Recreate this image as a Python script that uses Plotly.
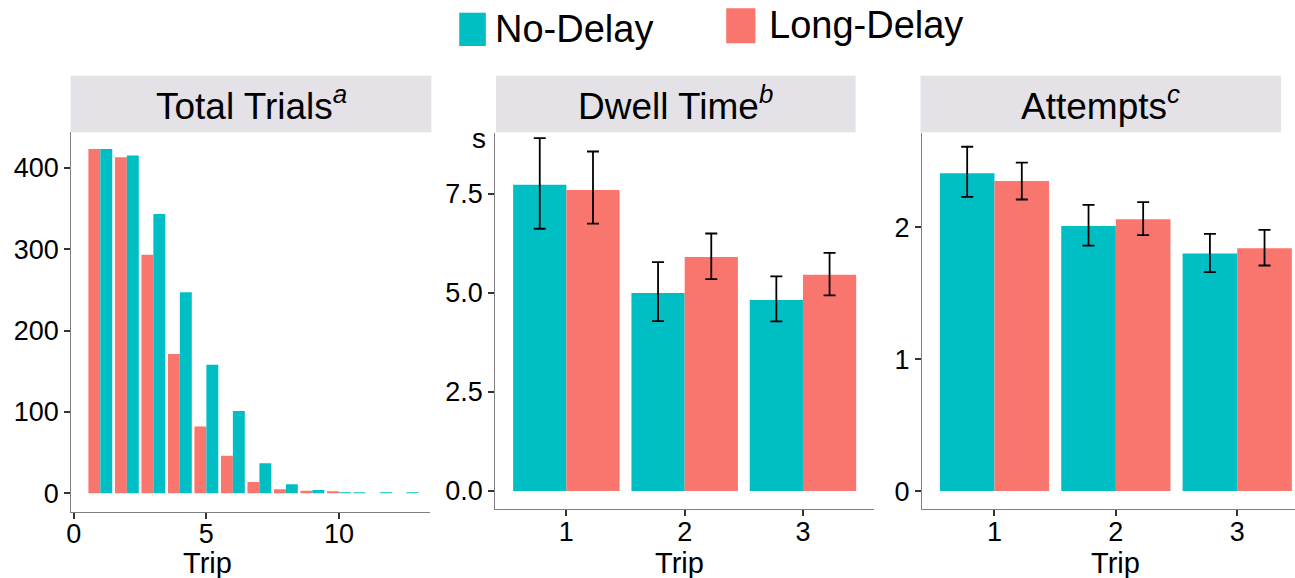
import plotly.graph_objects as go

W, H = 1295, 578
TEAL = "#00BFC4"
RED = "#F8766D"
FONT = "Liberation Sans, Arial, Helvetica, sans-serif"

# ---------------- data ----------------
trips_total_no = list(range(1, 14))
total_no_delay = [423, 415, 343, 247, 158, 101, 37, 11, 4, 1, 1, 1, 1]
trips_total_long = list(range(1, 11))
total_long_delay = [423, 413, 293, 171, 82, 46, 14, 5, 3, 2]

trips = [1, 2, 3]
dwell_no = [7.73, 5.00, 4.82]
dwell_no_hi = [8.91, 5.78, 5.42]
dwell_no_lo = [6.62, 4.29, 4.28]
dwell_long = [7.60, 5.91, 5.46]
dwell_long_hi = [8.57, 6.50, 6.01]
dwell_long_lo = [6.75, 5.35, 4.94]

att_no = [2.41, 2.01, 1.80]
att_no_hi = [2.61, 2.17, 1.95]
att_no_lo = [2.23, 1.86, 1.66]
att_long = [2.35, 2.06, 1.84]
att_long_hi = [2.49, 2.19, 1.98]
att_long_lo = [2.21, 1.94, 1.71]

panel_titles = ["Total Trials<sup><i>a</i></sup>",
                "Dwell Time<sup><i>b</i></sup>",
                "Attempts<sup><i>c</i></sup>"]
series_names = ["No-Delay", "Long-Delay"]


def px_x(p):
    return p / W


def px_y(p):
    return 1 - p / H


BW = 0.45


def err(vals, hi, lo):
    return dict(type="data", symmetric=False,
                array=[h - v for v, h in zip(vals, hi)],
                arrayminus=[v - l for v, l in zip(vals, lo)],
                color="black", thickness=1.8, width=6)


fig = go.Figure()

# Panel 1: Total trials (Long-Delay left, No-Delay right)
fig.add_trace(go.Bar(x=trips_total_long, y=total_long_delay, name=series_names[1],
                     marker=dict(color=RED, line=dict(width=0)),
                     width=BW, offset=-BW, xaxis="x", yaxis="y", showlegend=False))
teal_offsets = [0 if t in trips_total_long else -BW for t in trips_total_no]
fig.add_trace(go.Bar(x=trips_total_no, y=total_no_delay, name=series_names[0],
                     marker=dict(color=TEAL, line=dict(width=0)),
                     width=BW, offset=teal_offsets, xaxis="x", yaxis="y", showlegend=False))

# Panel 2: Dwell time
fig.add_trace(go.Bar(x=trips, y=dwell_no, name=series_names[0],
                     marker=dict(color=TEAL, line=dict(width=0)),
                     width=BW, offset=-BW, error_y=err(dwell_no, dwell_no_hi, dwell_no_lo),
                     xaxis="x2", yaxis="y2", showlegend=False))
fig.add_trace(go.Bar(x=trips, y=dwell_long, name=series_names[1],
                     marker=dict(color=RED, line=dict(width=0)),
                     width=BW, offset=0, error_y=err(dwell_long, dwell_long_hi, dwell_long_lo),
                     xaxis="x2", yaxis="y2", showlegend=False))

# Panel 3: Attempts
fig.add_trace(go.Bar(x=trips, y=att_no, name=series_names[0],
                     marker=dict(color=TEAL, line=dict(width=0)),
                     width=BW, offset=-BW, error_y=err(att_no, att_no_hi, att_no_lo),
                     xaxis="x3", yaxis="y3", showlegend=False))
fig.add_trace(go.Bar(x=trips, y=att_long, name=series_names[1],
                     marker=dict(color=RED, line=dict(width=0)),
                     width=BW, offset=0, error_y=err(att_long, att_long_hi, att_long_lo),
                     xaxis="x3", yaxis="y3", showlegend=False))

axis_common = dict(showline=True, linecolor="#808080", linewidth=1.3,
                   ticks="outside", ticklen=6, tickwidth=1.5, tickcolor="#333333",
                   showgrid=False, zeroline=False,
                   tickfont=dict(family=FONT, size=27, color="black"))
xaxis_extra = dict(ticklabelstandoff=-8)

fig.update_layout(
    width=W, height=H,
    margin=dict(l=0, r=0, t=0, b=0),
    paper_bgcolor="white", plot_bgcolor="white",
    barmode="overlay",
    font=dict(family=FONT, color="black"),
    xaxis=dict(domain=[px_x(66.7), px_x(427)], range=[-0.09, 13.45],
               tickvals=[0, 5, 10], anchor="y", **axis_common, **xaxis_extra),
    yaxis=dict(domain=[px_y(511.7), px_y(132.3)], range=[-22.6, 443.5],
               tickvals=[0, 100, 200, 300, 400], anchor="x", **axis_common),
    xaxis2=dict(domain=[px_x(492.3), px_x(872.3)], range=[0.4, 3.6],
                tickvals=[1, 2, 3], anchor="y2", **axis_common, **xaxis_extra),
    yaxis2=dict(domain=[px_y(509), px_y(132.5)], range=[-0.455, 9.05],
                tickvals=[0, 2.5, 5, 7.5], tickformat=".1f", anchor="x2", **axis_common),
    xaxis3=dict(domain=[px_x(920.7), 1.0], range=[0.404, 3.476],
                tickvals=[1, 2, 3], anchor="y3", **axis_common, **xaxis_extra),
    yaxis3=dict(domain=[px_y(509), px_y(132.5)], range=[-0.136, 2.718],
                tickvals=[0, 1, 2], anchor="x3", **axis_common),
)

shapes = []
annotations = []

# strips
strip_x = [(66, 428), (493, 854), (919, 1281)]
for (x0, x1), title in zip(strip_x, panel_titles):
    shapes.append(dict(type="rect", xref="paper", yref="paper",
                       x0=px_x(x0), x1=px_x(x1), y0=px_y(132.3), y1=px_y(75.7),
                       fillcolor="#E4E2E6", line=dict(width=0), layer="below"))
    annotations.append(dict(text=title, xref="paper", yref="paper",
                            x=px_x((x0 + x1) / 2), y=px_y(104), xanchor="center", yanchor="middle",
                            showarrow=False, font=dict(family=FONT, size=37, color="black")))

# axis titles
for cx in [203, 677, 1115]:
    annotations.append(dict(text="Trip", xref="paper", yref="paper",
                            x=px_x(cx), y=px_y(545), xanchor="center", yanchor="top",
                            showarrow=False, font=dict(family=FONT, size=29, color="black")))

# unit label
annotations.append(dict(text="s", xref="paper", yref="paper",
                        x=px_x(476), y=px_y(138), xanchor="center", yanchor="middle",
                        showarrow=False, font=dict(family=FONT, size=28, color="black")))

# legend
shapes.append(dict(type="rect", xref="paper", yref="paper",
                   x0=px_x(456), x1=px_x(482.7), y0=px_y(46), y1=px_y(12.7),
                   fillcolor=TEAL, line=dict(width=0)))
shapes.append(dict(type="rect", xref="paper", yref="paper",
                   x0=px_x(724), x1=px_x(753.3), y0=px_y(43.3), y1=px_y(8.3),
                   fillcolor=RED, line=dict(width=0)))
annotations.append(dict(text=series_names[0], xref="paper", yref="paper",
                        x=px_x(490), y=px_y(29), xanchor="left", yanchor="middle",
                        showarrow=False, font=dict(family=FONT, size=38, color="black")))
annotations.append(dict(text=series_names[1], xref="paper", yref="paper",
                        x=px_x(765), y=px_y(25), xanchor="left", yanchor="middle",
                        showarrow=False, font=dict(family=FONT, size=38, color="black")))

fig.update_layout(shapes=shapes, annotations=annotations)

fig.write_html("out.html", config={"displayModeBar": False},
               post_script="document.body.style.margin='0';document.body.style.overflow='hidden';")
